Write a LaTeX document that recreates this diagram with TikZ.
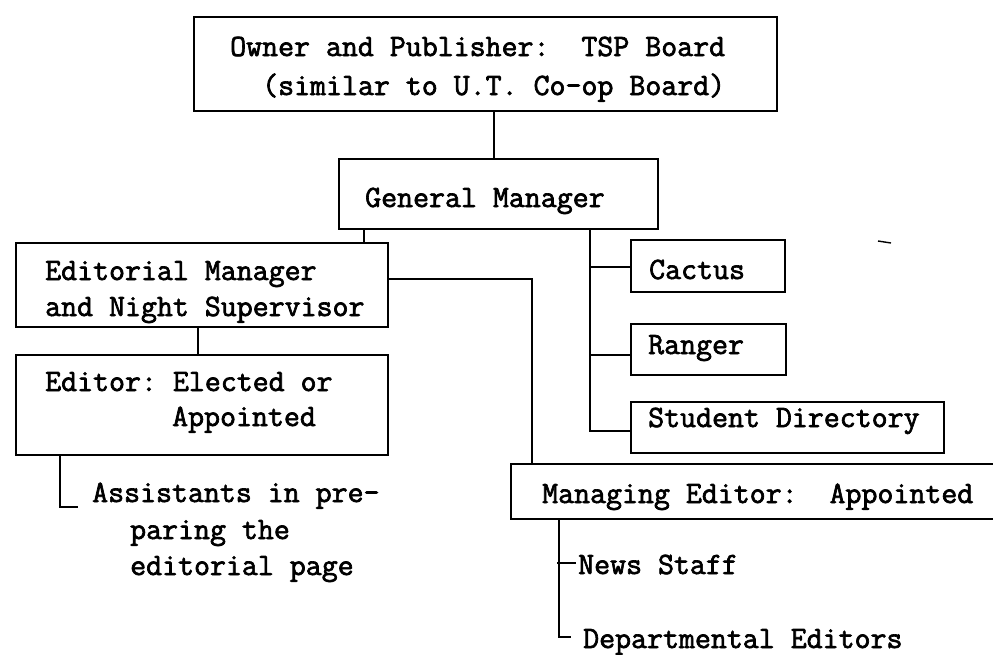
\documentclass[tikz,border=0pt]{standalone}
\usepackage{fontspec}
\newfontfamily\tw{Latin Modern Mono}[FakeBold=2.2]
\begin{document}
\begin{tikzpicture}[x=1pt,y=-1pt,
  box/.style={draw,line width=1.9pt,rectangle,inner sep=0pt,anchor=north west},
  lbl/.style={anchor=base west,inner sep=0pt,font=\tw\fontsize{31}{37}\selectfont},
  conn/.style={line width=1.8pt}]
\useasboundingbox (0,0) rectangle (993,654);
% boxes
\node[box,minimum width=583pt,minimum height=94pt] (top) at (193,16) {};
\node[box,minimum width=319pt,minimum height=70pt] (gm) at (338,158) {};
\node[box,minimum width=372pt,minimum height=84pt] (em) at (15,242) {};
\node[box,minimum width=372pt,minimum height=100pt] (ed) at (15,354) {};
\node[box,minimum width=154pt,minimum height=52pt] (cactus) at (630,239) {};
\node[box,minimum width=155pt,minimum height=51pt] (ranger) at (630,323) {};
\node[box,minimum width=313pt,minimum height=51pt] (sd) at (630,401) {};
\node[box,minimum width=500pt,minimum height=55pt] (me) at (510,463) {};
% texts
\node[lbl] (t1) at (230,56) {Owner and Publisher:~~TSP Board};
\node[lbl] (t2) at (262,95) {(similar to U.T. Co-op Board)};
\node[lbl] (t3) at (365,207) {General Manager};
\node[lbl] (t4) at (45,280) {Editorial Manager};
\node[lbl] (t5) at (45,316) {and Night Supervisor};
\node[lbl] (t6) at (45,391) {Editor:~Elected or};
\node[lbl] (t7) at (172,426) {Appointed};
\node[lbl] (t8) at (649,279) {Cactus};
\node[lbl] (t9) at (648,354) {Ranger};
\node[lbl] (t10) at (648,427) {Student Directory};
\node[lbl] (t11) at (542,503) {Managing Editor:~~Appointed};
\node[lbl] (asst1) at (92,502) {Assistants in pre-};
\node[lbl] (asst2) at (130,539) {paring the};
\node[lbl] (asst3) at (130,575) {editorial page};
\node[lbl] (news) at (578,574) {News Staff};
\node[lbl] (dept) at (583,648) {Departmental Editors};
% coordinates
\coordinate (v1) at (494,0);
\coordinate (v2) at (364,0);
\coordinate (k1) at (532,279);
\coordinate (v3) at (198,0);
\coordinate (v4) at (60,0);
\coordinate (aend) at (78,507);
\coordinate (rv) at (590,0);
\coordinate (yc) at (0,267);
\coordinate (yr) at (0,355);
\coordinate (ys) at (0,431);
\coordinate (mv) at (559,0);
\coordinate (yn) at (0,563);
\coordinate (nend) at (576,563);
\coordinate (dend) at (571,637);
\coordinate (s1) at (878,241);
\coordinate (s2) at (891,243);
% connectors
\draw[conn] (v1 |- top.south) -- (v1 |- gm.north);
\draw[conn] (v2 |- gm.south) -- (v2 |- em.north);
\draw[conn] (em.east |- k1) -- (k1) -- (k1 |- me.north);
\draw[conn] (v3 |- em.south) -- (v3 |- ed.north);
\draw[conn] (v4 |- ed.south) |- (aend);
\draw[conn] (rv |- gm.south) |- (ys -| sd.west);
\draw[conn] (rv |- yc) -- (yc -| cactus.west);
\draw[conn] (rv |- yr) -- (yr -| ranger.west);
\draw[conn] (mv |- me.south) |- (dend);
\draw[conn] ([xshift=-2pt]mv |- yn) -- (nend);
\draw[line width=1.4pt] (s1) -- (s2);
\end{tikzpicture}
\end{document}
